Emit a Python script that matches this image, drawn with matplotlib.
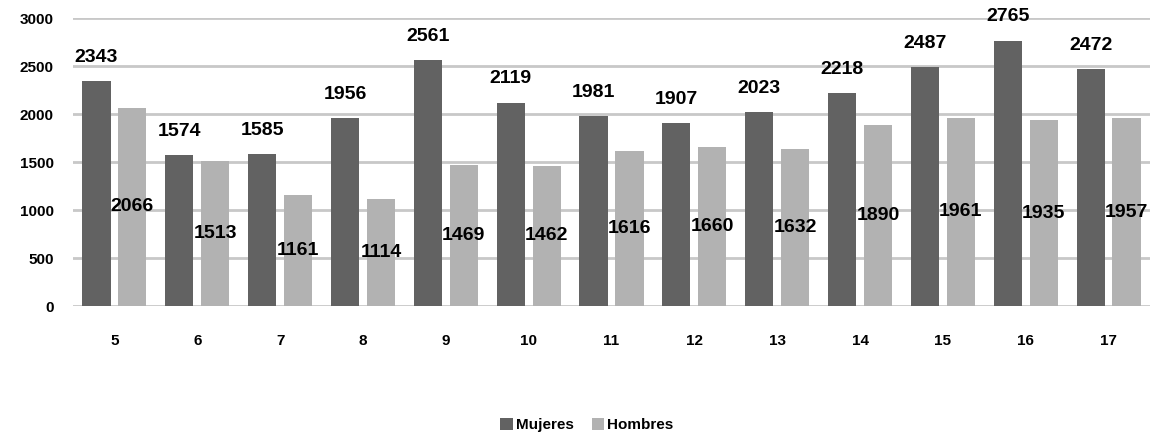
import numpy as np
import matplotlib.pyplot as plt

# data
categorias = ["5", "6", "7", "8", "9", "10", "11", "12", "13", "14", "15", "16", "17"]
mujeres = [2343, 1574, 1585, 1956, 2561, 2119, 1981, 1907, 2023, 2218, 2487, 2765, 2472]
hombres = [2066, 1513, 1161, 1114, 1469, 1462, 1616, 1660, 1632, 1890, 1961, 1935, 1957]

plt.rcParams['font.family'] = ['Liberation Sans', 'DejaVu Sans']

fig = plt.figure(figsize=(11.62, 4.38), dpi=100)
ax = fig.add_axes([73/1162, 1 - 306/438, (1150 - 73)/1162, 288/438])

x = np.arange(len(categorias))
w = 0.34
off = 0.217
b1 = ax.bar(x - off, mujeres, w, color="#626262", label="Mujeres", zorder=3)
b2 = ax.bar(x + off, hombres, w, color="#b2b2b2", label="Hombres", zorder=3)

# labels: Mujeres above the bar, Hombres in the middle of the bar
for xi, v in zip(x, mujeres):
    ax.annotate(str(v), (xi - off, v), xytext=(0, 17), textcoords="offset points",
                ha="center", va="center", fontsize=14, fontweight="bold", zorder=4)
for xi, v in zip(x, hombres):
    ax.text(xi + off, v / 2, str(v), ha="center", va="center",
            fontsize=14, fontweight="bold", zorder=4)

ax.set_xlim(-0.5, len(categorias) - 0.5)
ax.set_ylim(0, 3000)
ax.set_yticks(range(0, 3001, 500))
ax.set_xticks(x)
ax.set_xticklabels(categorias)
ax.yaxis.grid(True, color="#c8c8c8", linewidth=2, zorder=0)
ax.tick_params(length=0, labelsize=11)
ax.tick_params(axis="y", pad=14)
ax.tick_params(axis="x", pad=20)
for lab in ax.get_xticklabels() + ax.get_yticklabels():
    lab.set_fontweight("bold")
for s in ax.spines.values():
    s.set_visible(False)

fig.legend(handles=[b1, b2], loc="center", bbox_to_anchor=(587/1162, 1 - 425/438),
           ncol=2, frameon=False, prop={"weight": "bold", "size": 11},
           handlelength=0.8, handleheight=0.8, columnspacing=1.2, handletextpad=0.2)

fig.savefig("out.png", dpi=100)
